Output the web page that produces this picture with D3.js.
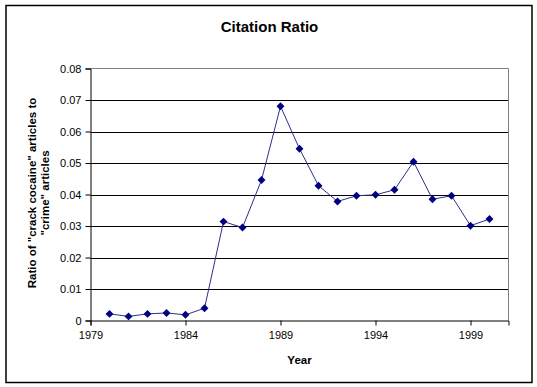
<!DOCTYPE html>
<html>
<head>
<meta charset="utf-8">
<script src="https://cdn.jsdelivr.net/npm/d3@7/dist/d3.min.js"></script>
<style>
  body { margin: 0; background: #fff; }
  text { font-family: 'Liberation Sans', Arial, sans-serif; fill: #000; }
</style>
</head>
<body>
<script>
const years = [1980, 1981, 1982, 1983, 1984, 1985, 1986, 1987, 1988, 1989, 1990,
               1991, 1992, 1993, 1994, 1995, 1996, 1997, 1998, 1999, 2000]
const ratios = [0.0021, 0.0013, 0.0021, 0.0024, 0.0018, 0.0039, 0.0314, 0.0295, 0.0446, 0.068, 0.0545,
                0.0428, 0.0378, 0.0396, 0.0399, 0.0415, 0.0504, 0.0385, 0.0396, 0.0301, 0.0322]
const xTicks = [1979, 1984, 1989, 1994, 1999]
const yTicks = [0, 0.01, 0.02, 0.03, 0.04, 0.05, 0.06, 0.07, 0.08]

let data = years.map((y, i) => ({year: y, value: ratios[i]}))

let width = 537, height = 387
let margin = {top: 68.5, right: 28.5, bottom: 66.5, left: 90.5}

let svg = d3.select('body').append('svg')
    .attr('width', width)
    .attr('height', height)

// outer chart border
svg.append('rect')
    .attr('x', 6).attr('y', 5.5)
    .attr('width', 526).attr('height', 377)
    .attr('fill', 'none').attr('stroke', '#000').attr('stroke-width', 1.5)

let xScale = d3.scaleLinear()
    .domain([1979, 2001])
    .range([margin.left, width - margin.right])

let yScale = d3.scaleLinear()
    .domain([0, 0.08])
    .range([height - margin.bottom, margin.top])

// gridlines
svg.append('g').selectAll('line')
    .data(yTicks.slice(1, -1))
    .join('line')
    .attr('x1', margin.left).attr('x2', width - margin.right)
    .attr('y1', d => Math.round(yScale(d)) + 0.5).attr('y2', d => Math.round(yScale(d)) + 0.5)
    .attr('stroke', '#000').attr('stroke-width', 1)

// plot area top and right edges
svg.append('path')
    .attr('d', `M${margin.left},${yScale(0.08)}H${xScale(2001)}V${yScale(0)}`)
    .attr('fill', 'none').attr('stroke', '#808080').attr('stroke-width', 1)

let yAxis = d3.axisLeft(yScale)
    .tickValues(yTicks)
    .tickFormat(d => d === 0 ? '0' : d3.format('.2f')(d))
    .tickSize(5).tickPadding(4)

let xAxis = d3.axisBottom(xScale)
    .tickValues(xTicks)
    .tickFormat(d3.format('d'))
    .tickSize(5).tickPadding(6)

let yG = svg.append('g')
    .attr('transform', `translate(${margin.left},0)`)
    .call(yAxis)
yG.select('.domain').attr('stroke', '#000')
yG.selectAll('text').style('font-size', '11px')

let xG = svg.append('g')
    .attr('transform', `translate(0,${height - margin.bottom})`)
    .call(xAxis)
xG.select('.domain').attr('stroke', '#000')
xG.selectAll('text').style('font-size', '11px')

let line = d3.line()
    .x(d => xScale(d.year))
    .y(d => yScale(d.value))

svg.append('path')
    .datum(data)
    .attr('d', line)
    .attr('fill', 'none')
    .attr('stroke', '#2e2e8e')
    .attr('stroke-width', 1)

svg.append('g').selectAll('path')
    .data(data)
    .join('path')
    .attr('d', d3.symbol(d3.symbolDiamond2, 40))
    .attr('transform', d => `translate(${xScale(d.year)},${yScale(d.value)})`)
    .attr('fill', '#000080')

svg.append('text')
    .attr('x', 269.5).attr('y', 32)
    .attr('text-anchor', 'middle')
    .style('font-size', '15px').style('font-weight', 'bold')
    .text('Citation Ratio')

svg.append('text')
    .attr('x', 299.5).attr('y', 364)
    .attr('text-anchor', 'middle')
    .style('font-size', '11.5px').style('font-weight', 'bold')
    .text('Year')

let yLabel = svg.append('text')
    .attr('transform', 'translate(36,193) rotate(-90)')
    .attr('text-anchor', 'middle')
    .style('font-size', '11.5px').style('font-weight', 'bold')
yLabel.append('tspan').attr('x', 0).attr('y', 0).text('Ratio of "crack cocaine" articles to')
yLabel.append('tspan').attr('x', 0).attr('y', 13).text('"crime" articles')
</script>
</body>
</html>
